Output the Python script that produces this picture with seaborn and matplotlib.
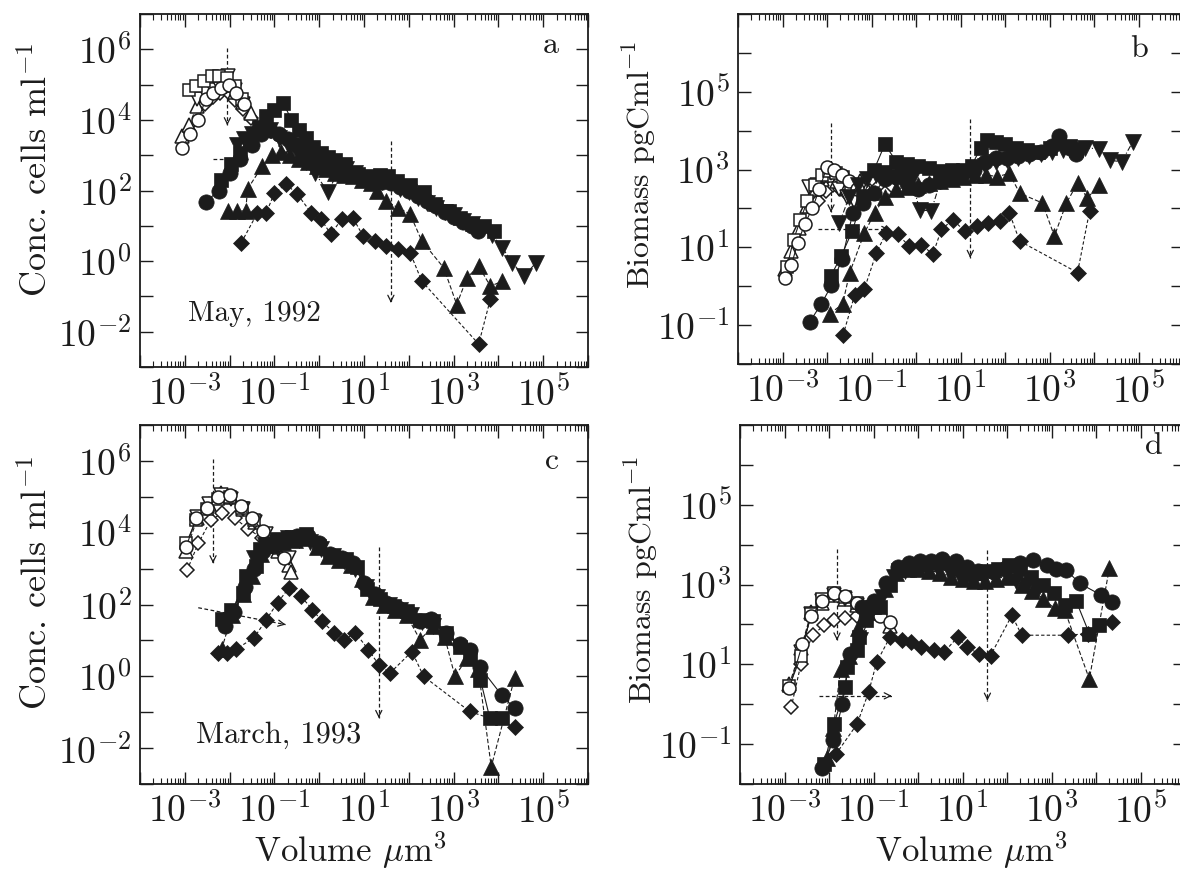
import numpy as np
import matplotlib
matplotlib.use("Agg")
import matplotlib.pyplot as plt
from matplotlib.ticker import LogLocator, FuncFormatter, NullLocator, NullFormatter
import seaborn as sns

sns.set_style("ticks")
plt.rcParams.update({
    "font.family": ["cmr10", "DejaVu Serif"],
    "mathtext.fontset": "cm",
    "axes.unicode_minus": False,
    "axes.formatter.use_mathtext": True,
    "axes.linewidth": 1.3,
})

INK = "#1c1c1c"

# ---------------------------------------------------------------------------
# Size spectra, values as log10(volume, um^3) and log10(value)
# o* = small cells (open symbols), f* = larger cells (filled symbols)
# c = circle, s = square, t = up-triangle, v = down-triangle, d = diamond
# ---------------------------------------------------------------------------

# (a) May 1992, concentration (cells ml-1)
a_oc_x = [-3.06, -2.88, -2.7, -2.53, -2.36, -2.19, -2.02, -1.85, -1.68]
a_oc_y = [3.2, 3.6, 4.0, 4.6, 4.75, 4.9, 5.0, 4.75, 4.45]
a_os_x = [-2.9, -2.74, -2.57, -2.4, -2.23, -2.06, -1.89, -1.72]
a_os_y = [4.85, 4.95, 5.1, 5.25, 5.25, 5.2, 4.95, 4.6]
a_ot_x = [-3.06, -2.9, -2.73, -2.56, -2.39, -2.22, -2.05, -1.88, -1.7, -1.53]
a_ot_y = [3.55, 3.85, 4.4, 4.7, 4.85, 4.95, 5.0, 4.8, 4.5, 4.2]
a_ov_x = [-2.72, -2.55, -2.38, -2.21, -2.04, -1.87, -1.7]
a_ov_y = [4.6, 4.75, 4.85, 4.9, 5.25, 4.85, 4.45]
a_od_x = [-2.55, -2.38, -2.21, -2.04, -1.87, -1.7, -1.53, -1.36, -0.75, -0.58]
a_od_y = [4.45, 4.65, 4.75, 4.8, 4.55, 4.3, 4.05, 3.7, 3.25, 3.05]

a_fs_x = [-2.2, -1.96, -1.76, -1.55, -1.35, -1.18, -1.02, -0.8, -0.62, -0.46, -0.3,
          -0.13, 0.05, 0.2, 0.36, 0.57, 0.87, 1.16, 1.35, 1.54, 1.73, 2.03, 2.33,
          2.59, 2.89, 3.15, 3.41, 3.67, 3.9]
a_fs_y = [2.29, 2.76, 3.05, 3.4, 3.8, 4.1, 4.27, 4.48, 4.0, 3.7, 3.5,
          3.24, 3.05, 2.95, 2.85, 2.74, 2.46, 2.41, 2.45, 2.41, 2.27, 2.15, 1.96,
          1.63, 1.42, 1.22, 1.04, 1.0, 0.85]
a_fc_x = [-2.53, -2.24, -2.0, -1.76, -1.5, -1.3, -1.1, -0.9, -0.7, -0.5, -0.3,
          -0.13, 0.03, 0.2, 0.4, 0.6, 0.8, 1.0, 1.2, 1.4, 1.6, 1.8, 2.0, 2.2,
          2.4, 2.6, 2.8, 3.0, 3.2, 3.4, 3.55]
a_fc_y = [1.68, 2.0, 2.5, 2.9, 3.3, 3.6, 3.7, 3.6, 3.45, 3.3, 3.1,
          2.95, 2.67, 2.75, 2.65, 2.55, 2.45, 2.35, 2.3, 2.25, 2.2, 2.1, 2.0, 1.85,
          1.7, 1.55, 1.4, 1.25, 1.1, 1.0, 0.85]
a_ft_x = [-2.04, -1.84, -1.64, -1.6, -1.27, -1.05, -0.85, -0.65, -0.45, -0.25,
          -0.05, 0.15, 0.35, 0.55, 0.75, 0.95, 1.15, 1.3, 1.5, 1.76, 2.03, 2.29,
          2.78, 3.07, 3.3, 3.56, 3.82, 4.09]
a_ft_y = [1.42, 1.42, 1.42, 2.04, 2.69, 3.0, 3.1, 3.0, 2.9, 2.8,
          2.7, 2.6, 2.5, 2.45, 2.4, 2.3, 2.2, 2.0, 1.7, 1.51, 1.33, 0.57,
          -0.19, -1.23, -0.47, -0.14, -0.71, -0.57]
a_fv_x = [-1.84, -1.67, -1.51, -1.3, -1.1, -0.9, -0.7, -0.5, -0.3, -0.1, 0.2,
          0.4, 0.6, 0.8, 1.0, 1.2, 1.4, 1.6, 1.8, 2.0, 2.2, 2.4, 2.6, 2.8, 3.0,
          3.2, 3.4, 3.6, 3.85, 4.09, 4.31, 4.57, 4.84]
a_fv_y = [3.3, 3.45, 3.6, 3.75, 3.7, 3.5, 3.3, 3.1, 2.8, 2.5, 1.95,
          2.5, 2.6, 2.5, 2.35, 2.3, 2.25, 2.2, 2.05, 1.95, 1.8, 1.65, 1.5, 1.4, 1.3,
          1.15, 1.05, 0.95, 0.75, 0.38, -0.05, -0.42, -0.05]
a_fd_x = [-1.74, -1.38, -1.18, -1.0, -0.74, -0.49, -0.18, 0.04, 0.26, 0.5, 0.75,
          0.98, 1.24, 1.5, 1.76, 2.03, 2.29, 3.56, 3.82]
a_fd_y = [0.52, 1.36, 1.37, 1.93, 2.18, 1.9, 1.37, 1.19, 0.76, 1.19, 1.23,
          0.71, 0.57, 0.42, 0.33, 0.24, -0.57, -2.35, -1.08]

# (b) May 1992, biomass (pgC ml-1)
b_oc_x = [-2.95, -2.8, -2.66, -2.5, -2.33, -2.17, -2.0, -1.84, -1.67, -1.5, -1.33]
b_oc_y = [0.2, 0.55, 1.1, 1.6, 2.0, 2.5, 3.07, 3.0, 2.85, 2.7, 2.5]
b_os_x = [-2.9, -2.75, -2.6, -2.44, -2.28, -2.12, -1.95, -1.8, -1.63, -1.47]
b_os_y = [0.5, 1.2, 1.7, 2.2, 2.6, 2.85, 2.95, 2.9, 2.8, 2.6]
b_ot_x = [-2.95, -2.8, -2.62, -2.45, -2.28, -2.12, -1.95, -1.78, -1.6, -1.43,
          -1.26, -1.1, -0.93]
b_ot_y = [0.45, 0.9, 1.5, 2.05, 2.5, 2.75, 2.85, 2.7, 2.55, 2.65, 2.7, 2.5, 2.4]
b_ov_x = [-2.4, -2.23, -2.06, -1.9, -1.73, -1.56, -1.4]
b_ov_y = [2.55, 2.6, 2.8, 2.9, 2.5, 2.3, 2.2]
b_od_x = [-2.2, -2.03, -1.86, -1.7, -1.53, -1.36, -1.2, -1.03, -0.86, -0.7]
b_od_y = [2.2, 2.45, 2.6, 2.5, 2.35, 2.3, 2.35, 2.45, 2.55, 2.39]

b_fs_x = [-1.91, -1.68, -1.43, -1.19, -0.94, -0.7, -0.44, -0.2, 0.05, 0.3, 0.55,
          0.8, 1.05, 1.25, 1.45, 1.6, 1.8, 2.0, 2.25, 2.5, 2.75, 3.0, 3.22, 3.45, 3.6]
b_fs_y = [0.27, 0.78, 1.42, 2.32, 3.0, 3.65, 3.2, 3.15, 3.1, 3.05, 2.95,
          3.0, 3.0, 3.1, 3.55, 3.75, 3.7, 3.65, 3.55, 3.5, 3.45, 3.55, 3.7, 3.6, 3.5]
b_fc_x = [-2.39, -2.13, -1.9, -1.66, -1.42, -1.19, -0.94, -0.7, -0.45, -0.2, 0.05,
          0.3, 0.55, 0.8, 1.05, 1.3, 1.55, 1.8, 2.05, 2.3, 2.55, 2.8, 3.05, 3.22,
          3.45, 3.6]
b_fc_y = [-0.92, -0.46, 0.02, 0.7, 1.88, 2.15, 2.4, 2.75, 2.8, 2.65, 2.5,
          2.6, 2.7, 2.8, 2.9, 3.0, 3.2, 3.3, 3.3, 3.35, 3.4, 3.45, 3.6, 3.85,
          3.55, 3.4]
b_ft_x = [-1.94, -1.65, -1.49, -1.16, -0.93, -0.7, -0.45, -0.2, 0.05, 0.3, 0.55,
          0.8, 1.05, 1.33, 1.58, 1.83, 2.1, 2.33, 2.84, 3.11, 3.38, 3.63, 3.85, 4.12]
b_ft_y = [-0.71, -0.46, 0.35, 1.37, 1.88, 2.3, 2.5, 2.55, 2.6, 2.65, 2.7,
          2.75, 2.8, 2.85, 2.86, 2.82, 2.9, 2.39, 2.14, 1.29, 2.14, 2.65, 2.27, 2.6]
b_fv_x = [-1.72, -1.5, -1.3, -1.1, -0.9, -0.7, -0.5, -0.3, -0.1, 0.08, 0.34,
          0.55, 0.8, 1.05, 1.3, 1.55, 1.8, 2.05, 2.3, 2.55, 2.8, 3.05, 3.3, 3.55,
          3.8, 4.12, 4.35, 4.62, 4.87]
b_fv_y = [1.63, 2.3, 2.6, 2.75, 2.85, 2.9, 2.8, 2.8, 2.75, 1.97, 1.93,
          2.7, 2.8, 2.9, 3.0, 3.1, 3.2, 3.25, 3.3, 3.35, 3.4, 3.45, 3.5, 3.5,
          3.55, 3.54, 3.24, 3.2, 3.71]
b_fd_x = [-1.64, -1.38, -1.16, -0.89, -0.67, -0.41, -0.15, 0.12, 0.38, 0.57, 0.83,
          1.09, 1.36, 1.61, 1.88, 2.1, 2.33, 3.63, 3.9]
b_fd_y = [-1.26, -0.23, -0.07, 0.86, 1.37, 1.33, 1.03, 1.07, 0.82, 1.46, 1.71,
          1.42, 1.55, 1.63, 1.67, 1.88, 1.16, 0.35, 1.93]

# (c) March 1993, concentration (cells ml-1)
c_oc_x = [-2.97, -2.75, -2.5, -2.25, -2.0, -1.75, -1.5, -1.25, -1.0, -0.78]
c_oc_y = [3.6, 4.4, 4.7, 5.0, 5.05, 4.75, 4.4, 4.05, 3.6, 3.3]
c_os_x = [-2.97, -2.75, -2.5, -2.25, -2.0, -1.72, -1.45]
c_os_y = [3.7, 4.35, 4.65, 4.95, 5.0, 4.7, 4.35]
c_ot_x = [-2.97, -2.72, -2.45, -2.2, -1.96, -1.7, -1.44, -1.18, -0.92, -0.67, -0.64]
c_ot_y = [3.5, 4.4, 4.8, 5.1, 5.0, 4.66, 4.3, 3.96, 3.5, 3.1, 2.9]
c_ov_x = [-2.72, -2.45, -2.2, -1.96, -1.7, -1.44, -1.18, -0.92, -0.67]
c_ov_y = [4.45, 4.8, 5.05, 4.95, 4.65, 4.3, 3.95, 3.55, 3.3]
c_od_x = [-2.95, -2.7, -2.42, -2.16, -1.88, -1.58, -1.28]
c_od_y = [2.95, 3.7, 4.35, 4.55, 4.4, 4.1, 3.85]

c_fs_x = [-2.18, -1.96, -1.7, -1.63, -1.41, -1.33, -1.18, -0.89, -0.6, -0.3, 0.0,
          0.3, 0.6, 0.85, 1.07, 1.36, 1.66, 1.96, 2.25, 2.55, 2.84, 3.14, 3.36,
          3.6, 3.81, 4.07]
c_fs_y = [1.6, 1.86, 2.33, 2.79, 3.07, 3.54, 3.63, 3.73, 3.87, 3.96, 3.63,
          3.35, 3.26, 3.05, 2.42, 2.14, 1.95, 1.81, 1.58, 1.55, 1.21, 0.83, 0.5,
          -0.1, -1.17, -1.17]
c_fc_x = [-2.1, -1.9, -1.65, -1.45, -1.25, -1.0, -0.75, -0.5, -0.25, 0.0, 0.25,
          0.5, 0.75, 1.0, 1.25, 1.5, 1.75, 2.0, 2.25, 2.5, 2.84, 3.14, 3.36, 3.58,
          4.07, 4.36]
c_fc_y = [1.4, 1.8, 2.5, 3.0, 3.5, 3.75, 3.85, 3.9, 3.9, 3.7, 3.4,
          3.3, 3.15, 2.6, 2.3, 2.05, 1.9, 1.75, 1.55, 1.6, 1.21, 0.9, 0.74, 0.27,
          -0.52, -0.89]
c_ft_x = [-2.18, -1.95, -1.7, -1.5, -1.3, -1.05, -0.8, -0.55, -0.3, -0.05, 0.2,
          0.45, 0.7, 0.95, 1.2, 1.45, 1.7, 1.95, 2.25, 2.55, 2.8, 3.03, 3.3, 3.55,
          3.84, 4.36]
c_ft_y = [0.75, 1.7, 2.3, 2.8, 3.4, 3.65, 3.75, 3.8, 3.85, 3.6, 3.35,
          3.25, 3.1, 2.7, 2.2, 2.0, 1.85, 1.7, 1.02, 1.4, 1.1, 0.0, 0.5, 0.2,
          -2.52, -0.05]
c_fv_x = [-1.45, -1.2, -0.95, -0.7, -0.45, -0.2, 0.05, 0.3, 0.55, 0.8, 1.05,
          1.3, 1.55, 1.8, 2.05, 2.3, 2.55]
c_fv_y = [3.3, 3.65, 3.8, 3.85, 3.8, 3.75, 3.55, 3.35, 3.2, 3.0, 2.5,
          2.2, 2.0, 1.85, 1.7, 1.5, 1.4]
c_fd_x = [-2.27, -2.06, -1.86, -1.45, -1.18, -0.93, -0.67, -0.41, -0.15, 0.06, 0.33,
          0.55, 0.81, 1.1, 1.33, 1.58, 2.07, 2.33, 3.36, 4.36]
c_fd_y = [0.66, 0.66, 0.75, 1.08, 1.58, 2.05, 2.47, 2.23, 1.86, 1.53, 1.22,
          1.02, 1.21, 0.74, 0.32, 0.09, 0.69, 0.0, -0.98, -1.4]

# (d) March 1993, biomass (pgC ml-1)
d_oc_x = [-2.89, -2.6, -2.4, -2.15, -1.89, -1.63, -1.37, -1.11, -0.85, -0.63]
d_oc_y = [0.4, 1.5, 2.2, 2.6, 2.8, 2.72, 2.55, 2.45, 2.2, 2.06]
d_os_x = [-2.89, -2.63, -2.41, -2.15, -1.89, -1.63, -1.37, -1.11]
d_os_y = [0.46, 1.2, 2.27, 2.65, 2.78, 2.69, 2.53, 2.4]
d_ot_x = [-2.89, -2.63, -2.4, -2.15, -1.89, -1.63, -1.37, -1.11, -0.85, -0.63]
d_ot_y = [0.5, 1.4, 2.3, 2.55, 2.75, 2.65, 2.5, 2.4, 2.3, 1.95]
d_ov_x = [-2.63, -2.4, -2.15, -1.89, -1.63, -1.37, -1.11]
d_ov_y = [1.3, 2.25, 2.6, 2.75, 2.65, 2.5, 2.35]
d_od_x = [-2.85, -2.63, -2.37, -2.11, -1.89, -1.63, -1.37]
d_od_y = [-0.08, 1.01, 1.73, 1.98, 2.11, 2.15, 2.2]

d_fs_x = [-2.11, -1.89, -1.63, -1.6, -1.37, -1.33, -1.16, -1.0, -0.85, -0.63, -0.44,
          -0.2, 0.05, 0.3, 0.55, 0.8, 1.05, 1.3, 1.55, 1.8, 2.05, 2.3, 2.55, 2.8,
          3.05, 3.3, 3.55, 3.85, 4.07]
d_fs_y = [-1.51, -0.5, 0.42, 0.93, 1.35, 1.68, 2.11, 2.44, 2.44, 2.99, 3.37,
          3.45, 3.5, 3.55, 3.55, 3.4, 3.3, 3.3, 3.35, 3.4, 3.5, 3.4, 3.2, 3.0,
          2.8, 2.5, 2.6, 1.77, 1.98]
d_fc_x = [-2.15, -1.9, -1.7, -1.52, -1.26, -1.0, -0.71, -0.46, -0.2, 0.05, 0.3,
          0.55, 0.86, 1.1, 1.35, 1.7, 2.0, 2.3, 2.59, 2.9, 3.1, 3.33, 3.63, 4.11, 4.37]
d_fc_y = [-1.6, -0.9, 0.0, 1.26, 2.44, 2.6, 3.03, 3.45, 3.55, 3.6, 3.6,
          3.65, 3.6, 3.45, 3.35, 3.32, 3.45, 3.55, 3.62, 3.5, 3.4, 3.37, 3.03, 2.74, 2.57]
d_ft_x = [-2.04, -1.9, -1.74, -1.55, -1.35, -1.15, -0.95, -0.75, -0.5, -0.25, 0.0,
          0.25, 0.5, 0.75, 1.0, 1.25, 1.5, 1.75, 2.0, 2.33, 2.56, 2.81, 3.07, 3.3,
          3.85, 4.3]
d_ft_y = [-1.35, -0.59, 0.89, 1.2, 1.9, 2.3, 2.55, 2.9, 3.3, 3.4, 3.4,
          3.35, 3.3, 3.2, 3.15, 3.1, 3.1, 3.15, 3.2, 2.99, 2.85, 2.65, 2.4, 2.35,
          0.63, 3.41]
d_fv_x = [-1.3, -1.05, -0.8, -0.55, -0.3, -0.05, 0.2, 0.45, 0.7, 0.95, 1.2,
          1.45, 1.7, 1.95, 2.2, 2.45, 2.7]
d_fv_y = [1.6, 2.3, 2.7, 3.2, 3.35, 3.4, 3.45, 3.4, 3.35, 3.2, 3.15,
          3.2, 3.3, 3.35, 3.1, 3.0, 2.9]
d_fd_x = [-1.85, -1.37, -1.11, -0.93, -0.63, -0.37, -0.15, 0.07, 0.37, 0.59, 0.89,
          1.11, 1.37, 1.63, 2.11, 2.33, 3.37, 3.82, 4.37]
d_fd_y = [-1.26, -0.5, 0.3, 1.05, 1.68, 1.6, 1.56, 1.43, 1.35, 1.31, 1.68,
          1.43, 1.26, 1.22, 2.23, 1.73, 1.73, 1.77, 2.06]

# Size-class boundary arrows: (log10 x0, log10 y0, log10 x1, log10 y1)
a_arrows = [(-2.05, 6.05, -2.05, 3.85), (1.6, 3.4, 1.6, -1.18), (-2.38, 2.9, -1.6, 2.9)]
b_arrows = [(-1.91, 4.2, -1.91, 1.9), (1.22, 4.3, 1.22, 0.73), (-2.21, 1.46, -0.6, 1.46)]
c_arrows = [(-2.37, 6.05, -2.37, 3.15), (1.33, 3.6, 1.33, -1.16), (-2.7, 1.91, -0.75, 1.44)]
d_arrows = [(-1.82, 3.9, -1.82, 1.6), (1.56, 3.86, 1.56, 0.09), (-2.22, 0.21, -0.59, 0.21)]

MARKERS = {"c": "o", "s": "s", "t": "^", "v": "v", "d": "D"}
SIZES = {"c": 11.0, "s": 10.5, "t": 11.5, "v": 11.5, "d": 7.8}
STYLES = {"c": "-", "s": "-", "t": (0, (4, 2)), "v": (0, (5, 2, 1, 2)), "d": (0, (3, 2))}


def draw(ax, lx, ly, kind, filled, z):
    x = np.power(10.0, np.asarray(lx))
    y = np.power(10.0, np.asarray(ly))
    ms = SIZES[kind] if filled else SIZES[kind] * 0.85
    sns.lineplot(x=x, y=y, ax=ax, sort=False, estimator=None, color=INK,
                 linewidth=0.8, linestyle=STYLES[kind], marker=MARKERS[kind],
                 markersize=ms, markerfacecolor=INK if filled else "white",
                 markeredgecolor=INK, markeredgewidth=0.5 if filled else 1.1,
                 zorder=z)


def arrow(ax, x0, y0, x1, y1):
    p0 = (10 ** x0, 10 ** y0)
    p1 = (10 ** x1, 10 ** y1)
    ax.plot([p0[0], p1[0]], [p0[1], p1[1]], color=INK, lw=0.9,
            linestyle=(0, (3, 2)), zorder=2)
    span = max(abs(x1 - x0), abs(y1 - y0))
    fx = 10 ** (x1 - 0.06 * (x1 - x0) / span)
    fy = 10 ** (y1 - 0.06 * (y1 - y0) / span)
    ax.annotate("", xy=p1, xytext=(fx, fy),
                arrowprops=dict(arrowstyle="->", color=INK, lw=0.9,
                                mutation_scale=11, shrinkA=0, shrinkB=0),
                zorder=2)


def style_axes(ax, ylo, yhi, odd_y):
    ax.set_xscale("log")
    ax.set_yscale("log")
    ax.set_xlim(1e-4, 1e6)
    ax.set_ylim(ylo, yhi)
    ax.xaxis.set_major_locator(LogLocator(base=10, numticks=40))
    ax.xaxis.set_minor_locator(LogLocator(base=10, subs=np.arange(2, 10), numticks=40))
    ax.xaxis.set_minor_formatter(NullFormatter())
    ax.yaxis.set_major_locator(LogLocator(base=10, numticks=40))
    ax.yaxis.set_minor_locator(NullLocator())
    top_e = int(round(np.log10(yhi)))

    def xfmt(v, pos):
        e = int(round(np.log10(v)))
        return f"$10^{{{e}}}$" if (e % 2 == 1 and e < 6) else ""

    def yfmt(v, pos):
        e = int(round(np.log10(v)))
        return f"$10^{{{e}}}$" if ((e % 2 == 1) == odd_y and e < top_e) else ""

    ax.xaxis.set_major_formatter(FuncFormatter(xfmt))
    ax.yaxis.set_major_formatter(FuncFormatter(yfmt))
    ax.tick_params(which="major", direction="in", top=True, right=True,
                   length=9, width=1.0, labelsize=27, pad=6, colors=INK)
    ax.tick_params(axis="x", which="minor", direction="in", top=True, bottom=True,
                   length=4.5, width=0.8, colors=INK)
    for sp in ax.spines.values():
        sp.set_color(INK)


fig = plt.figure(figsize=(11.8, 8.69), dpi=100)
W, H = 1180.0, 869.0
ax_a = fig.add_axes([140 / W, 1 - 367 / H, 448 / W, 353 / H])
ax_b = fig.add_axes([738 / W, 1 - 364 / H, 445 / W, 350 / H])
ax_c = fig.add_axes([140 / W, 1 - 784 / H, 448 / W, 359 / H])
ax_d = fig.add_axes([740 / W, 1 - 784 / H, 445 / W, 359 / H])

panels = [
    (ax_a, "a", 1e-3, 1e7, False, a_arrows),
    (ax_b, "b", 1e-2, 1e7, True, b_arrows),
    (ax_c, "c", 1e-3, 1e7, False, c_arrows),
    (ax_d, "d", 1e-2, 1e7, True, d_arrows),
]

data = globals()
for ax, key, ylo, yhi, odd_y, arrows in panels:
    style_axes(ax, ylo, yhi, odd_y)
    for ar in arrows:
        arrow(ax, *ar)
    for kind in ["d", "t", "v", "s", "c"]:
        draw(ax, data[f"{key}_o{kind}_x"], data[f"{key}_o{kind}_y"], kind, False, 3)
    for kind in ["s", "c", "v", "t", "d"]:
        draw(ax, data[f"{key}_f{kind}_x"], data[f"{key}_f{kind}_y"], kind, True, 4)

ax_a.text(0.935, 0.91, "a", transform=ax_a.transAxes, ha="right", va="center", fontsize=23, color=INK)
ax_b.text(0.92, 0.90, "b", transform=ax_b.transAxes, ha="right", va="center", fontsize=23, color=INK)
ax_c.text(0.935, 0.90, "c", transform=ax_c.transAxes, ha="right", va="center", fontsize=23, color=INK)
ax_d.text(0.95, 0.94, "d", transform=ax_d.transAxes, ha="right", va="center", fontsize=23, color=INK)

ax_a.text(10 ** -2.93, 10 ** -1.5, "May, 1992", ha="left", va="center", fontsize=21, color=INK)
ax_c.text(10 ** -2.75, 10 ** -1.64, "March, 1993", ha="left", va="center", fontsize=22, color=INK)

for ax in (ax_a, ax_c):
    ax.set_ylabel("Conc. cells ml$^{-1}$", fontsize=26, color=INK)
    ax.yaxis.set_label_coords(-0.19, 0.56)
for ax in (ax_b, ax_d):
    ax.set_ylabel("Biomass pgCml$^{-1}$", fontsize=23, color=INK)
    ax.yaxis.set_label_coords(-0.18, 0.57)
ax_c.set_xlabel("Volume $\\mu$m$^{3}$", fontsize=25, color=INK)
ax_c.xaxis.set_label_coords(0.47, -0.125)
ax_d.set_xlabel("Volume $\\mu$m$^{3}$", fontsize=25, color=INK)
ax_d.xaxis.set_label_coords(0.52, -0.125)

fig.savefig("out.png", dpi=100)
